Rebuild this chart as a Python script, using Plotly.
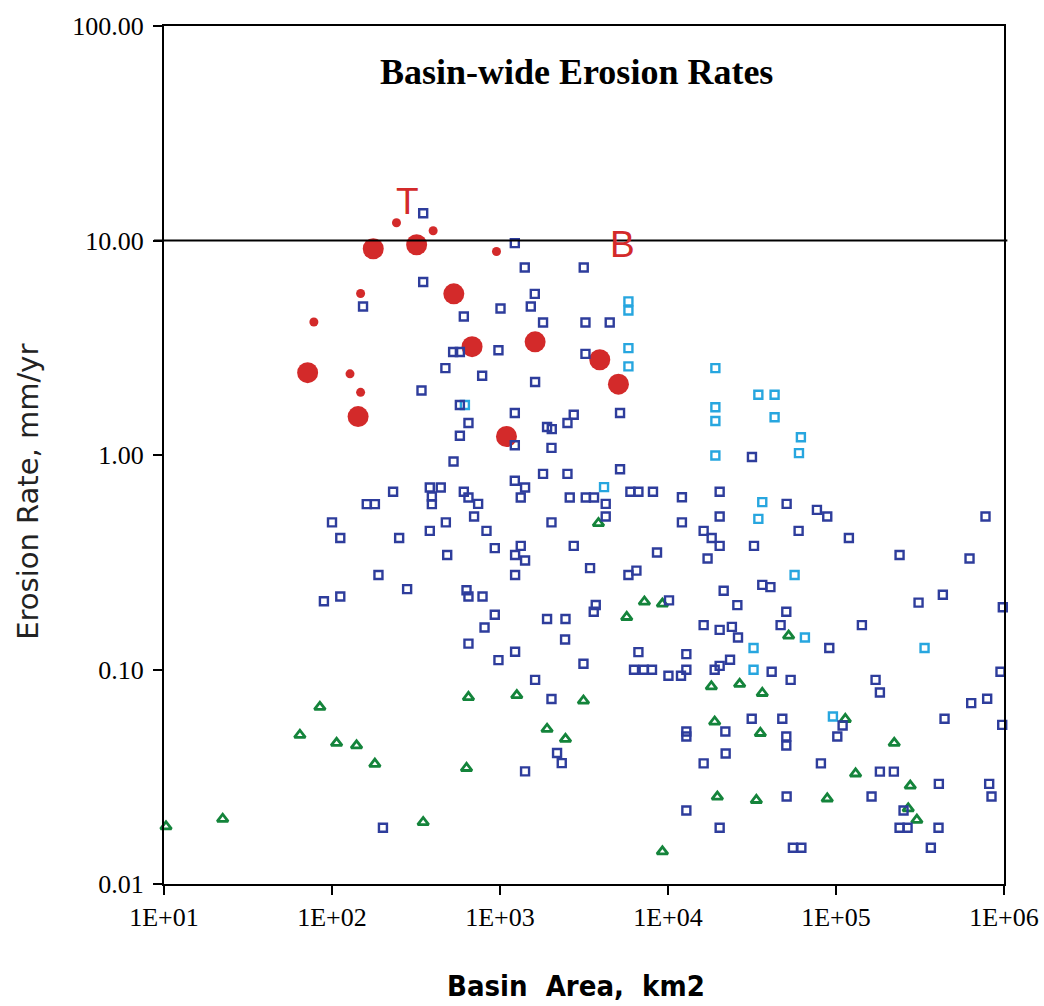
import plotly.graph_objects as go

# Basin-wide erosion rates versus drainage area (log-log)

# Large red circles (area km2, rate mm/yr)
red_large_area = [176, 319, 531, 682, 1618, 3925, 5070, 1093, 71.6, 143]
red_large_rate = [9.15, 9.55, 5.64, 3.20, 3.37, 2.78, 2.14, 1.22, 2.42, 1.51]

# Small red circles
red_small_area = [242, 400, 953, 148, 78.0, 128, 148]
red_small_rate = [12.1, 11.1, 8.89, 5.66, 4.17, 2.39, 1.96]

# Dark blue open squares
blue_area = [
    349, 349, 153, 473, 341, 1225, 1404, 3151, 1611, 609,
    1007, 1525, 1804, 3226, 4499, 526, 577, 979, 3226, 783,
    1618, 577, 1225, 2748, 2521, 5182, 649, 577, 1906, 2033,
    1225, 2025, 529, 1225, 1804, 2521, 5182, 231, 382, 444,
    393, 393, 161, 180, 100, 112, 251, 382, 476, 485,
    189, 280, 89.5, 112, 609, 649, 741, 1410, 1329, 2601,
    3240, 3629, 4259, 4259, 5973, 6666, 8140, 12100, 12100, 701,
    831, 2025, 931, 1329, 1230, 1410, 1230, 2748, 3436, 8602,
    5813, 6486, 632, 649, 787, 10140, 3715, 3614, 931, 809,
    1906, 2453, 2440, 649, 1230, 6666, 12860, 979, 3139, 6277,
    7168, 8030, 10060, 11950, 12860, 1618, 2025, 2186, 2331, 1410,
    12860, 12860, 12860, 201, 31600, 20300, 50830, 77000, 88700, 776000,
    20300, 16300, 18200, 20300, 32500, 59900, 119300, 17200, 239000, 623500,
    21450, 36400, 40700, 432500, 310000, 983800, 25870, 50600, 16300, 20300,
    24000, 26100, 46800, 142600, 91200, 18960, 20300, 23400, 41400, 53700,
    172000, 182500, 638000, 794000, 953000, 31500, 47900, 109500, 442700, 975700,
    21950, 50600, 50600, 101800, 22040, 16300, 81300, 182500, 221000, 409400,
    816200, 842700, 50830, 162800, 252400, 20300, 239000, 266700, 407600, 55400,
    62200, 366900,
]
blue_rate = [
    13.4, 6.40, 4.92, 2.54, 2.00, 9.72, 7.48, 7.48, 5.64, 4.42,
    4.82, 4.92, 4.15, 4.15, 4.15, 3.02, 3.02, 3.08, 2.96, 2.34,
    2.19, 1.71, 1.57, 1.54, 1.41, 1.57, 1.41, 1.23, 1.35, 1.32,
    1.11, 1.08, 0.933, 0.758, 0.817, 0.817, 0.858, 0.674, 0.706, 0.706,
    0.641, 0.590, 0.590, 0.590, 0.485, 0.410, 0.410, 0.443, 0.485, 0.342,
    0.276, 0.237, 0.208, 0.219, 0.674, 0.634, 0.592, 0.706, 0.634, 0.634,
    0.634, 0.634, 0.592, 0.517, 0.674, 0.674, 0.674, 0.635, 0.485, 0.517,
    0.443, 0.485, 0.368, 0.377, 0.342, 0.322, 0.276, 0.377, 0.297, 0.351,
    0.276, 0.289, 0.234, 0.219, 0.219, 0.210, 0.200, 0.186, 0.180, 0.157,
    0.172, 0.172, 0.138, 0.132, 0.121, 0.1205, 0.118, 0.1106, 0.1063, 0.0997,
    0.0997, 0.0997, 0.0935, 0.0935, 0.0997, 0.0895, 0.0728, 0.0408, 0.0366, 0.0335,
    0.0514, 0.0487, 0.0220, 0.0183, 0.978, 0.674, 0.592, 0.555, 0.517, 0.517,
    0.517, 0.443, 0.410, 0.377, 0.377, 0.443, 0.410, 0.329, 0.342, 0.329,
    0.233, 0.248, 0.242, 0.223, 0.205, 0.195, 0.1996, 0.186, 0.161, 0.153,
    0.158, 0.141, 0.161, 0.161, 0.126, 0.0997, 0.104, 0.111, 0.0976, 0.0895,
    0.0895, 0.0781, 0.0697, 0.0730, 0.0976, 0.0589, 0.0589, 0.0548, 0.0589, 0.0552,
    0.0514, 0.0487, 0.0442, 0.0487, 0.0406, 0.0365, 0.0365, 0.0334, 0.0334, 0.0293,
    0.0293, 0.0256, 0.0256, 0.0256, 0.0220, 0.0183, 0.0183, 0.0183, 0.0183, 0.01475,
    0.01475, 0.01475,
]

# Light blue open squares
cyan_area = [5813, 5813, 5813, 5813, 618, 4162, 19140, 34500, 43100, 19140,
             19140, 43100, 61800, 19140, 60200, 36400, 34500, 56700, 65300, 32300,
             336600, 32300, 95850]
cyan_rate = [5.20, 4.72, 3.15, 2.59, 1.71, 0.708, 2.54, 1.91, 1.91, 1.67,
             1.44, 1.50, 1.21, 0.995, 1.02, 0.603, 0.504, 0.276, 0.141, 0.126,
             0.126, 0.0997, 0.0604]

# Green open triangles
green_area = [10.28, 22.35, 64.4, 84.7, 106.5, 140, 179.9, 349, 649, 1259,
              3139, 1906, 2453, 632, 9262, 3855, 7237, 9262, 5680, 52240,
              18120, 26700, 36400, 113600, 18960, 35450, 222200, 130800, 276700, 19670,
              33570, 88700, 269200, 302900]
green_rate = [0.01854, 0.0201, 0.0495, 0.0668, 0.0454, 0.0442, 0.0363, 0.0194, 0.0743, 0.0758,
              0.0715, 0.0528, 0.0474, 0.0347, 0.01417, 0.481, 0.207, 0.2024, 0.1755, 0.1436,
              0.0833, 0.0855, 0.0776, 0.0587, 0.0571, 0.0505, 0.0454, 0.0327, 0.0287, 0.0255,
              0.0246, 0.0250, 0.0225, 0.0199]

y_tick_vals = [0.01, 0.1, 1, 10, 100]
x_tick_vals = [10, 100, 1000, 10000, 100000, 1000000]
x_tick_text = ["1E+01", "1E+02", "1E+03", "1E+04", "1E+05", "1E+06"]

RED = "#d32a2a"
BLUE = "#2e3d9c"
CYAN = "#27a6df"
GREEN = "#14843b"

fig = go.Figure()

fig.add_trace(go.Scatter(
    x=red_large_area, y=red_large_rate, mode="markers", cliponaxis=False,
    marker=dict(symbol="circle", size=21, color=RED, line=dict(width=0)),
))
fig.add_trace(go.Scatter(
    x=red_small_area, y=red_small_rate, mode="markers", cliponaxis=False,
    marker=dict(symbol="circle", size=9, color=RED, line=dict(width=0)),
))
fig.add_trace(go.Scatter(
    x=green_area, y=green_rate, mode="markers", cliponaxis=False,
    marker=dict(symbol="triangle-up-open", size=9.5, color=GREEN,
                line=dict(width=2.8, color=GREEN)),
))
fig.add_trace(go.Scatter(
    x=cyan_area, y=cyan_rate, mode="markers", cliponaxis=False,
    marker=dict(symbol="square-open", size=8, color=CYAN,
                line=dict(width=2.4, color=CYAN)),
))
fig.add_trace(go.Scatter(
    x=blue_area, y=blue_rate, mode="markers", cliponaxis=False,
    marker=dict(symbol="square-open", size=8, color=BLUE,
                line=dict(width=2.4, color=BLUE)),
))

# Reference line at 10 mm/yr
fig.add_shape(type="line", xref="paper", yref="y", x0=-0.012, x1=1.004, y0=10, y1=10,
              line=dict(color="black", width=2.2))

serif = "Liberation Serif, Times New Roman, serif"

fig.add_annotation(text="Basin-wide Erosion Rates", xref="paper", yref="paper",
                   x=0.4905, y=0.9464, showarrow=False, xanchor="center", yanchor="middle",
                   font=dict(family=serif, size=36, color="black", weight="bold"))
fig.add_annotation(text="T", xref="paper", yref="paper", x=0.2893, y=0.796,
                   showarrow=False, xanchor="center", yanchor="middle",
                   font=dict(family="Liberation Sans, Arial, sans-serif", size=37, color=RED))
fig.add_annotation(text="B", xref="paper", yref="paper", x=0.5464, y=0.7448,
                   showarrow=False, xanchor="center", yanchor="middle",
                   font=dict(family="Liberation Sans, Arial, sans-serif", size=37, color=RED))
fig.add_annotation(text="Basin\u00a0\u00a0Area,\u00a0\u00a0km2", xref="paper", yref="paper",
                   x=0.4905, y=-0.119, showarrow=False, xanchor="center", yanchor="middle",
                   font=dict(family="Liberation Sans Narrow, DejaVu Sans Condensed, Arial Narrow, sans-serif",
                             size=29, color="black", weight="bold"))
fig.add_annotation(text="Erosion Rate, mm/yr", xref="paper", yref="paper",
                   x=-0.162, y=0.457, showarrow=False, textangle=-90,
                   xanchor="center", yanchor="middle",
                   font=dict(family="DejaVu Sans, Verdana, sans-serif", size=29, color="#222"))

fig.update_xaxes(
    type="log", range=[1, 6], tickvals=x_tick_vals, ticktext=x_tick_text,
    showgrid=False, zeroline=False, showline=True, linecolor="black", linewidth=2.4,
    mirror=True, ticks="outside", ticklen=9, tickwidth=1.5, tickcolor="black",
    automargin=False,
    tickfont=dict(family=serif, size=26, color="black"),
)
fig.update_yaxes(
    type="log", range=[-2, 2], tickvals=y_tick_vals, tickformat=".2f",
    showgrid=False, zeroline=False, showline=True, linecolor="black", linewidth=2,
    mirror=True, ticks="outside", ticklen=9, tickwidth=1.5, tickcolor="black",
    ticklabelstandoff=4, automargin=False,
    tickfont=dict(family=serif, size=26, color="black"),
)

fig.update_layout(
    width=1044, height=1006,
    margin=dict(l=164, r=40, t=26, b=122, autoexpand=False),
    paper_bgcolor="white", plot_bgcolor="white",
    showlegend=False,
)

fig.write_html("out.html")
